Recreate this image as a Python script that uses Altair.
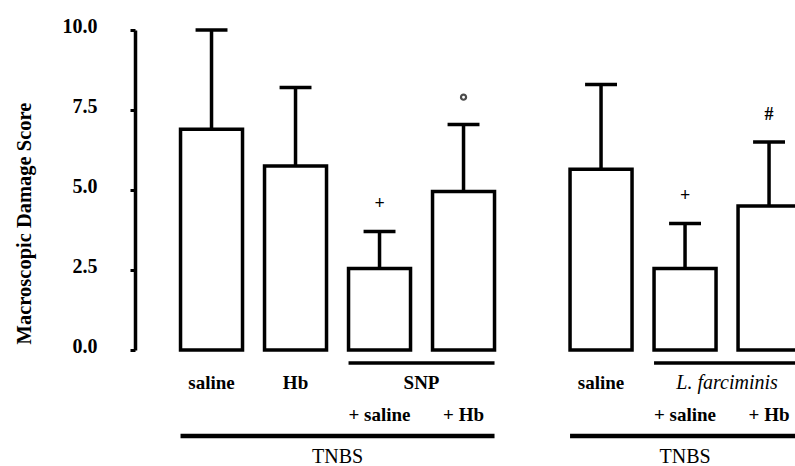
import altair as alt
import pandas as pd

# Macroscopic damage score per treatment (mean and SEM)
conditions = ["saline", "Hb", "SNP + saline", "SNP + Hb",
              "saline", "L. farciminis + saline", "L. farciminis + Hb"]
panel = [0, 0, 0, 0, 1, 1, 1]
slot = [0, 1, 2, 3, 0, 1, 2]
scores = [6.9, 5.75, 2.55, 4.95, 5.65, 2.55, 4.5]
sem = [3.1, 2.45, 1.15, 2.1, 2.65, 1.4, 2.0]
significance = ["", "", "+", "°", "", "+", "#"]

# Category labels under the bars: (text, bars it is centred on, row, style)
label_text = ["saline", "Hb", "SNP", "saline", "L. farciminis",
              "+ saline", "+ Hb", "+ saline", "+ Hb", "TNBS", "TNBS"]
label_bars = [[0], [1], [2, 3], [4], [5, 6],
              [2], [3], [5], [6], [0, 1, 2, 3], [4, 5, 6]]
label_row = [1, 1, 1, 1, 1, 2, 2, 2, 2, 3, 3]
label_style = ["b", "b", "b", "b", "i", "b", "b", "b", "b", "r", "r"]

# Bracket lines under groups of bars: (bars spanned, level)
bracket_bars = [[2, 3], [5, 6], [0, 1, 2, 3], [4, 5, 6]]
bracket_level = [1, 1, 2, 2]

# ---- layout (x in bar-slot units, y in score units) ----
PANEL_SHIFT = 4.637
BAR_HALF = 0.369
CAP_HALF = 0.19
ROW_Y = {1: -1.03, 2: -2.03, 3: -3.53}
LINE_Y = {1: -0.41, 2: -2.69}
X_DOMAIN = [-0.911, 6.946]
FONT = "Liberation Serif"

pos = [p * PANEL_SHIFT + s for p, s in zip(panel, slot)]

bars = pd.DataFrame({
    "condition": conditions,
    "pos": pos,
    "left": [p - BAR_HALF for p in pos],
    "right": [p + BAR_HALF for p in pos],
    "cap_l": [p - CAP_HALF for p in pos],
    "cap_r": [p + CAP_HALF for p in pos],
    "score": scores,
    "upper": [m + e for m, e in zip(scores, sem)],
    "sig": significance,
})
bars["sig_y"] = bars["upper"] + 0.85

labels = pd.DataFrame({
    "text": label_text,
    "x": [sum(pos[i] for i in b) / len(b) for b in label_bars],
    "y": [ROW_Y[r] for r in label_row],
    "style": label_style,
})

brackets = pd.DataFrame({
    "x": [pos[b[0]] - BAR_HALF for b in bracket_bars],
    "x2": [pos[b[-1]] + BAR_HALF for b in bracket_bars],
    "y": [LINE_Y[l] for l in bracket_level],
    "level": bracket_level,
})

xs = alt.Scale(domain=X_DOMAIN, nice=False, zero=False)
ys = alt.Scale(domain=[0, 10], nice=False, zero=False)

y_axis = alt.Axis(
    values=[0, 2.5, 5, 7.5, 10], format=".1f", grid=False,
    title="Macroscopic Damage Score",
    domainColor="black", domainWidth=3.5,
    tickColor="black", tickWidth=3, tickSize=5,
    labelFont=FONT, labelFontWeight="bold", labelFontSize=20,
    labelColor="black", labelPadding=33, labelOffset=-4,
    titleFont=FONT, titleFontWeight="bold", titleFontSize=20.5,
    titleColor="black", titleAngle=270, titleX=-111, titleY=193,
    titleAlign="center", titleBaseline="middle",
)

base = alt.Chart(bars)

boxes = base.mark_rect(fill="white", stroke="black", strokeWidth=3.5).encode(
    x=alt.X("left:Q", scale=xs, axis=None),
    x2="right:Q",
    y=alt.Y("score:Q", scale=ys, axis=y_axis),
    y2=alt.datum(0),
)

whisker = base.mark_rule(color="black", strokeWidth=3.5).encode(
    x=alt.X("pos:Q", scale=xs),
    y=alt.Y("score:Q", scale=ys),
    y2="upper:Q",
)

caps = base.mark_rule(color="black", strokeWidth=3.5).encode(
    x=alt.X("cap_l:Q", scale=xs),
    x2="cap_r:Q",
    y=alt.Y("upper:Q", scale=ys),
)

sig_text = base.transform_filter(
    "datum.sig == '+' || datum.sig == '#'"
).mark_text(font=FONT, fontSize=18, fontWeight="bold", color="black",
            baseline="middle").encode(
    x=alt.X("pos:Q", scale=xs),
    y=alt.Y("sig_y:Q", scale=ys),
    text="sig:N",
)

sig_ring = base.transform_filter("datum.sig == '°'").mark_point(
    shape="circle", filled=False, stroke="black", strokeWidth=2.2, size=26
).encode(
    x=alt.X("pos:Q", scale=xs),
    y=alt.Y("sig_y:Q", scale=ys),
)

bracket_lines = alt.Chart(brackets).mark_rule(color="black").encode(
    x=alt.X("x:Q", scale=xs),
    x2="x2:Q",
    y=alt.Y("y:Q", scale=ys),
    strokeWidth=alt.condition("datum.level == 2", alt.value(4.5), alt.value(3.5)),
)


def label_layer(style, weight, font_style, size, baseline):
    return alt.Chart(labels).transform_filter(
        f"datum.style == '{style}'"
    ).mark_text(font=FONT, fontSize=size, fontWeight=weight, fontStyle=font_style,
                color="black", baseline=baseline).encode(
        x=alt.X("x:Q", scale=xs),
        y=alt.Y("y:Q", scale=ys),
        text="text:N",
    )


chart = alt.layer(
    boxes, whisker, caps, sig_text, sig_ring, bracket_lines,
    label_layer("b", "bold", "normal", 19, "middle"),
    label_layer("i", "normal", "italic", 20, "middle"),
    label_layer("r", "normal", "normal", 20, "alphabetic"),
).properties(
    width=660, height=320,
    autosize=alt.AutoSizeParams(type="none"),
    padding={"left": 135, "top": 30, "right": 0, "bottom": 116},
    background="white",
).configure_view(strokeWidth=0)

chart.save("out.html", embed_options={"renderer": "svg", "actions": False})
